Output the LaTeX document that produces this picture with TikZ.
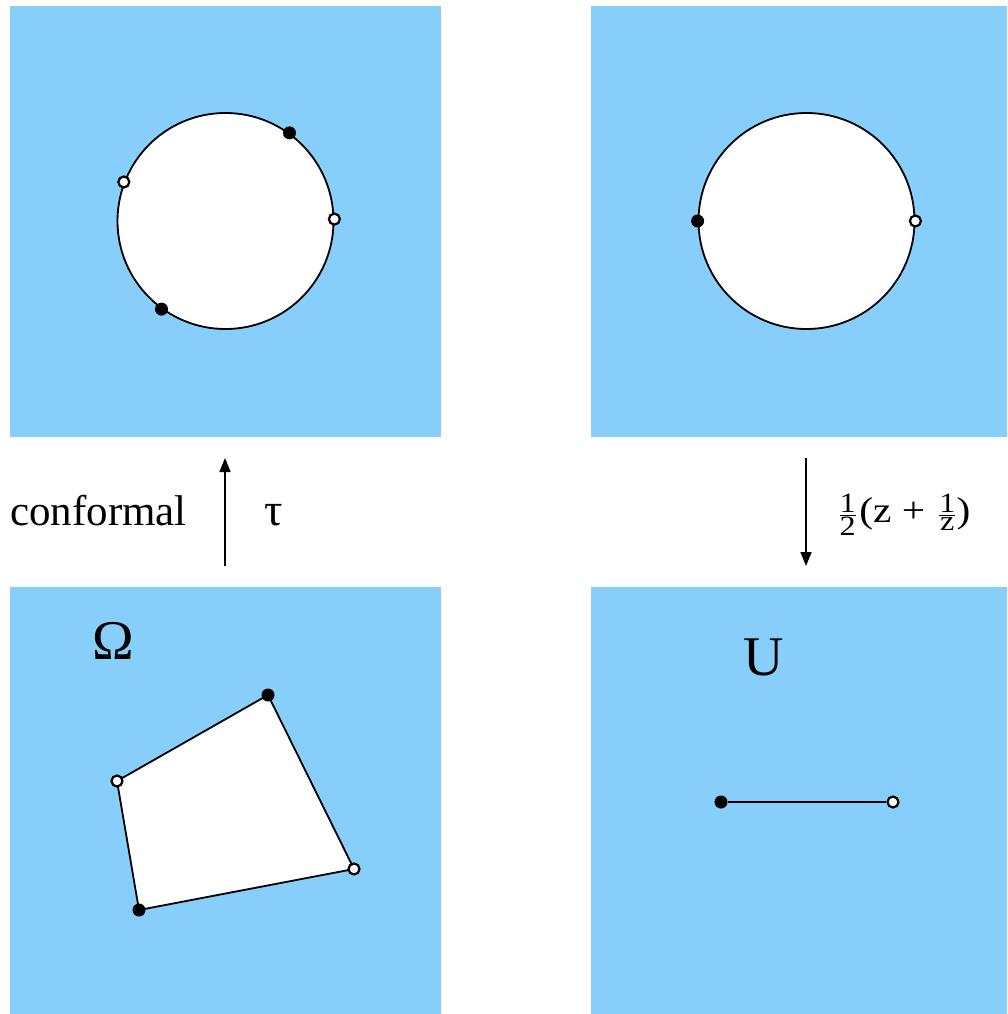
\documentclass[tikz,border=0pt]{standalone}
\usepackage{amsmath}
\usepackage{graphicx}
\usepackage{fontspec}
\setmainfont{Liberation Serif}
\usetikzlibrary{arrows.meta}
\definecolor{plane}{RGB}{135,206,250}
\newcommand{\fracpart}[1]{\mbox{\fontsize{28}{30}\selectfont #1}}

\begin{document}
\begin{tikzpicture}[x=1pt,y=-1pt,>={Triangle[length=14pt,width=11pt]},
  panel/.style={fill=plane},
  disk/.style={circle,draw,fill=white,line width=1.8pt,minimum size=216pt,inner sep=0pt},
  fdot/.style={circle,fill=black,inner sep=0pt,minimum size=13pt},
  odot/.style={circle,draw,fill=white,line width=2.2pt,inner sep=0pt,minimum size=11pt},
  maparrow/.style={->,line width=1.6pt},
  lbl/.style={anchor=base west,inner sep=0pt}]
  \useasboundingbox (0,0) rectangle (1007,1014);
  % the four planes
  \fill[panel] (10,6) rectangle (441,437);
  \fill[panel] (591,6) rectangle (1007,437);
  \fill[panel] (10,587) rectangle (441,1014);
  \fill[panel] (591,587) rectangle (1007,1014);
  % unit discs
  \node[disk] (discL) at (225.5,221) {};
  \node[fdot] (aL) at (discL.54) {};
  \node[odot] (bL) at (discL.159) {};
  \node[odot] (cL) at (discL.1.6) {};
  \node[fdot] (dL) at (discL.234) {};
  \node[disk] (discR) at (806.5,221) {};
  \node[fdot] (aR) at (discR.180) {};
  \node[odot] (bR) at (discR.0) {};
  % polygon Omega
  \coordinate (q1) at (268,695);
  \coordinate (q2) at (117,781);
  \coordinate (q3) at (139,910);
  \coordinate (q4) at (354,869);
  \filldraw[fill=white,line width=1.8pt] (q1) -- (q2) -- (q3) -- (q4) -- cycle;
  \node[fdot] (v1) at (q1) {};
  \node[odot] (v2) at (q2) {};
  \node[fdot] (v3) at (q3) {};
  \node[odot] (v4) at (q4) {};
  % slit U
  \node[fdot] (sa) at (721,802) {};
  \node[odot] (sb) at (893,802) {};
  \draw[line width=1.8pt] (sa) -- (sb);
  % labels
  \node[lbl,font=\fontsize{56}{60}\selectfont] (omega) at (92,659) {Ω};
  \node[lbl,font=\fontsize{56}{60}\selectfont] (slit) at (743,675) {U};
  % maps
  \coordinate (tauS) at (225,566);
  \coordinate (tauE) at (225,458);
  \draw[maparrow] (tauS) -- (tauE);
  \coordinate (jS) at (806,458);
  \coordinate (jE) at (806,566);
  \draw[maparrow] (jS) -- (jE);
  \node[lbl,font=\fontsize{43}{48}\selectfont] (conf) at (10,525) {conformal};
  \node[lbl,font=\fontsize{46}{50}\selectfont] (tau) at (264,525) {τ};
  \node[lbl,font=\fontsize{36}{40}\selectfont] (joukowski) at (838,522)
    {\scalebox{1.15}[1]{$\frac{\fracpart{1}}{\fracpart{2}}$\kern2pt(z + \kern2pt$\frac{\fracpart{1}}{\fracpart{z}}$)}};
\end{tikzpicture}
\end{document}
